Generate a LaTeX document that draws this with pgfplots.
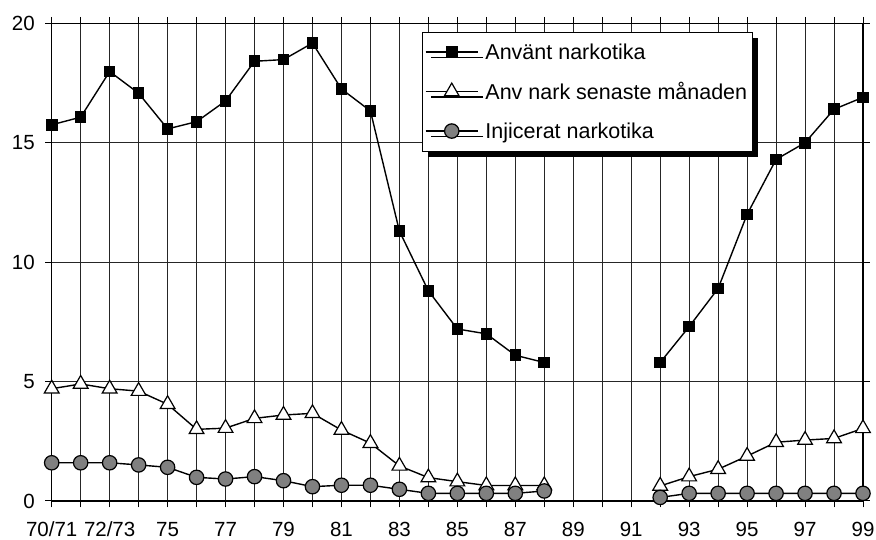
\documentclass[border=0pt]{standalone}
\usepackage{pgfplots}
\pgfplotsset{compat=1.18}
\usepackage{fontspec}
\setmainfont{Liberation Sans}
\usetikzlibrary{shadows}
\definecolor{markgray}{RGB}{128,128,128}
\begin{document}
\begin{tikzpicture}
\begin{axis}[
  scale only axis,
  width=811.3pt, height=477.7pt,
  xmin=0, xmax=28, ymin=0, ymax=20,
  xtick={0,...,28},
  xticklabels={70/71,,72/73,,75,,77,,79,,81,,83,,85,,87,,89,,91,,93,,95,,97,,99},
  ytick={0,5,10,15,20},
  tick align=outside,
  major tick length=6.5pt,
  tick style={black, line width=1pt},
  xmajorgrids, ymajorgrids,
  major grid style={black!85, line width=0.7pt},
  axis line style={black, line width=1.3pt},
  font=\fontsize{20.5}{24}\selectfont,
  ticklabel style={font=\fontsize{20.5}{24}\selectfont},
  /pgf/number format/assume math mode=true,
  xticklabel style={yshift=-11pt},
  yticklabel style={xshift=-7pt},
  unbounded coords=jump,
  legend cell align=left,
  legend style={at={(0.456,0.9824)}, anchor=north west, draw=black, line width=0.8pt, fill=white,
    font=\fontsize{21.5}{25}\selectfont, row sep=17.5pt, inner xsep=3pt, inner ysep=9.5pt,
    nodes={inner xsep=2pt},
    drop shadow={fill=black, opacity=1, shadow xshift=5.5pt, shadow yshift=-5.5pt}},
  legend image code/.code={\draw[mark repeat=2,mark phase=2,#1] plot coordinates {(2pt,0pt)(28pt,0pt)(54pt,0pt)};},
]
\addplot[black, line width=1.4pt, mark=square*, mark size=5.3pt, mark options={solid, fill=black, line width=1pt}] coordinates {
(0,15.75)(1,16.07)(2,17.98)(3,17.07)(4,15.58)(5,15.88)(6,16.75)(7,18.41)(8,18.48)(9,19.17)
(10,17.25)(11,16.33)(12,11.3)(13,8.8)(14,7.2)(15,7.0)(16,6.1)(17,5.8)(18,nan)
(21,5.8)(22,7.3)(23,8.9)(24,12.0)(25,14.3)(26,15.0)(27,16.4)(28,16.9)};
\addlegendentry{\hspace*{5pt}Använt narkotika}
\addplot[black, line width=1.4pt, mark=triangle*, mark size=8.5pt, mark options={solid, fill=white, line width=1.2pt}] coordinates {
(0,4.7)(1,4.9)(2,4.7)(3,4.6)(4,4.05)(5,3.0)(6,3.05)(7,3.46)(8,3.6)(9,3.67)
(10,2.97)(11,2.42)(12,1.47)(13,0.98)(14,0.81)(15,0.65)(16,0.65)(17,0.65)(18,nan)
(21,0.63)(22,1.02)(23,1.33)(24,1.88)(25,2.46)(26,2.55)(27,2.62)(28,3.04)};
\addlegendentry{\hspace*{5pt}Anv nark senaste månaden}
\addplot[black, line width=1.4pt, mark=*, mark size=7.2pt, mark options={solid, fill=markgray, line width=1.2pt}] coordinates {
(0,1.6)(1,1.6)(2,1.6)(3,1.51)(4,1.41)(5,0.99)(6,0.92)(7,1.02)(8,0.85)(9,0.6)
(10,0.66)(11,0.66)(12,0.49)(13,0.32)(14,0.32)(15,0.32)(16,0.32)(17,0.42)(18,nan)
(21,0.15)(22,0.32)(23,0.32)(24,0.32)(25,0.32)(26,0.32)(27,0.32)(28,0.32)};
\addlegendentry{\hspace*{5pt}Injicerat narkotika\rule[-23pt]{0pt}{0pt}}
\end{axis}
\pgfresetboundingbox
\path[use as bounding box] (-51.7pt,-39pt) rectangle (824.3pt,501pt);
\end{tikzpicture}
\end{document}
